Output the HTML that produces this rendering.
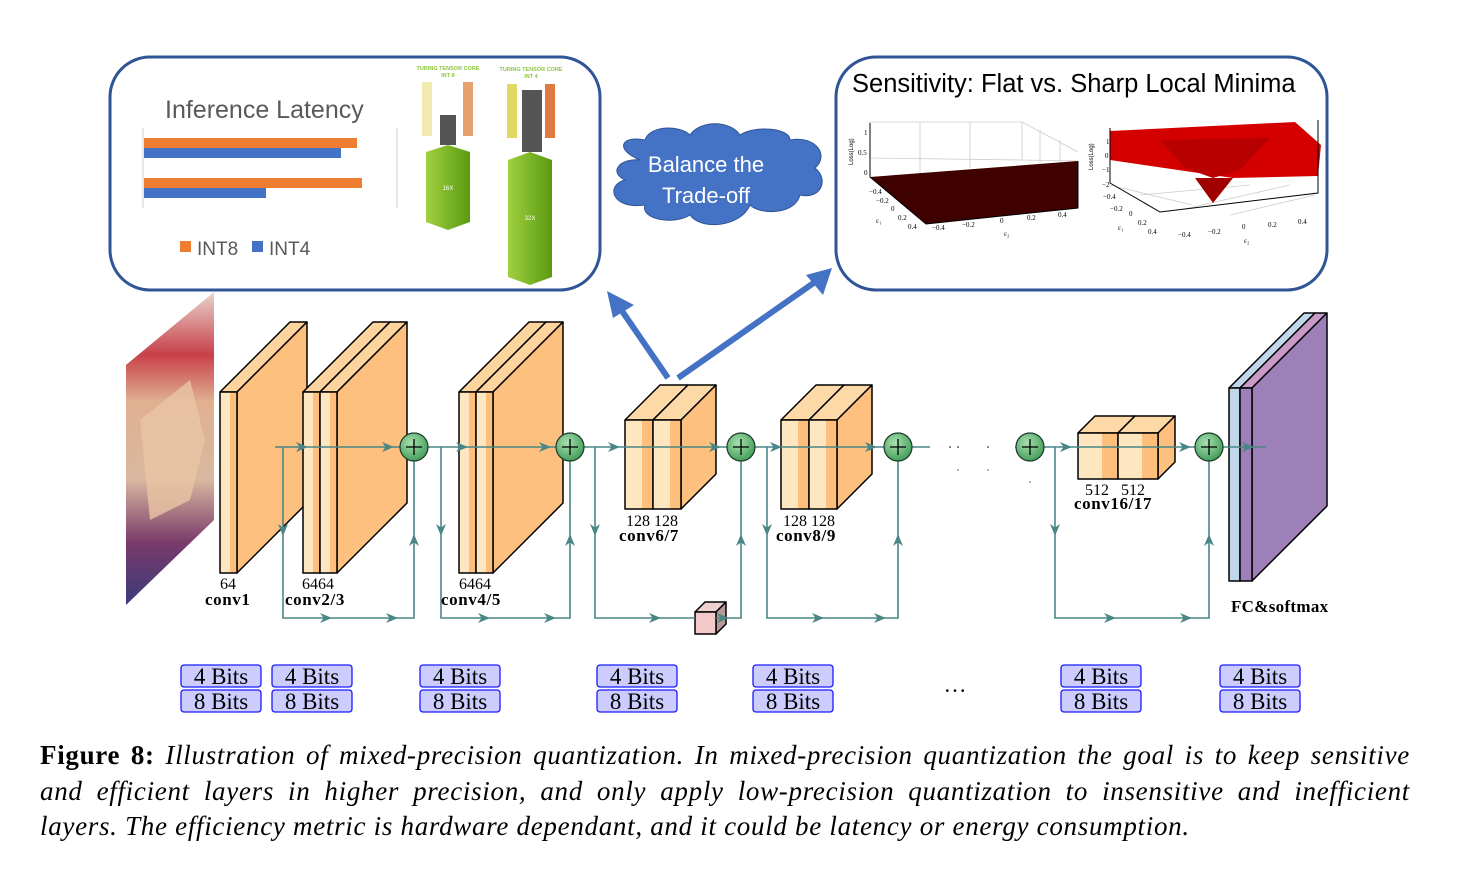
<!DOCTYPE html>
<html><head><meta charset="utf-8">
<style>
html,body{margin:0;padding:0;background:#fff;width:1470px;height:876px;overflow:hidden}
svg{position:absolute;left:0;top:0}
.cap{position:absolute;left:40px;width:1370px;font-family:"Liberation Serif",serif;font-size:27px;letter-spacing:0.7px;line-height:35.5px;color:#000;font-style:italic;white-space:nowrap}
.j{text-align:justify;text-align-last:justify}
.cap b{font-style:normal}
</style></head><body>
<svg width="1470" height="876" viewBox="0 0 1470 876" xmlns="http://www.w3.org/2000/svg">
<defs>
<path id="ar" d="M-6,-5 L6,0 L-6,5 L-2.5,0Z" fill="#4a8686"/>
<radialGradient id="gg" cx="0.4" cy="0.35" r="0.7"><stop offset="0" stop-color="#a8e0b0"/><stop offset="1" stop-color="#3f9a55"/></radialGradient>
<linearGradient id="cat" x1="0" y1="0" x2="0" y2="1"><stop offset="0" stop-color="#e8d5cc"/><stop offset="0.2" stop-color="#c8404a"/><stop offset="0.35" stop-color="#e0b090"/><stop offset="0.6" stop-color="#d8b8a0"/><stop offset="0.8" stop-color="#7a3a6a"/><stop offset="1" stop-color="#3a3a7a"/></linearGradient>
<linearGradient id="fr" x1="0" y1="0" x2="1" y2="0"><stop offset="0" stop-color="#fee7c0"/><stop offset="0.6" stop-color="#fee7c0"/><stop offset="0.6" stop-color="#fdbf7b"/><stop offset="1" stop-color="#fdbf7b"/></linearGradient>
<linearGradient id="tg" x1="0" y1="0" x2="1" y2="0"><stop offset="0" stop-color="#a0d040"/><stop offset="1" stop-color="#5a9a10"/></linearGradient>
</defs>

<rect x="110" y="57" width="490" height="233" rx="40" fill="#fff" stroke="#2f5597" stroke-width="3"/>
<text x="165" y="118" font-family="Liberation Sans,sans-serif" font-size="25" fill="#595959">Inference Latency</text>
<line x1="143" y1="128" x2="143" y2="208" stroke="#d0d0d0"/>
<line x1="397" y1="128" x2="397" y2="208" stroke="#d0d0d0"/>
<rect x="144" y="138" width="213" height="10" fill="#ed7d31"/>
<rect x="144" y="148" width="197" height="10" fill="#4472c4"/>
<rect x="144" y="178" width="218" height="10" fill="#ed7d31"/>
<rect x="144" y="188" width="122" height="10" fill="#4472c4"/>
<rect x="180" y="241" width="11" height="11" fill="#ed7d31"/>
<text x="197" y="255" font-family="Liberation Sans,sans-serif" font-size="19" fill="#595959">INT8</text>
<rect x="252" y="241" width="11" height="11" fill="#4472c4"/>
<text x="269" y="255" font-family="Liberation Sans,sans-serif" font-size="19" fill="#595959">INT4</text>
<text x="448" y="70" font-family="Liberation Sans,sans-serif" font-size="5.5" font-weight="bold" fill="#8cc43c" text-anchor="middle">TURING TENSOR CORE</text>
<text x="448" y="77" font-family="Liberation Sans,sans-serif" font-size="5.5" font-weight="bold" fill="#8cc43c" text-anchor="middle">INT 8</text>
<text x="531" y="71" font-family="Liberation Sans,sans-serif" font-size="5.5" font-weight="bold" fill="#8cc43c" text-anchor="middle">TURING TENSOR CORE</text>
<text x="531" y="78" font-family="Liberation Sans,sans-serif" font-size="5.5" font-weight="bold" fill="#8cc43c" text-anchor="middle">INT 4</text>
<rect x="422" y="82" width="10" height="54" fill="#f0eab0"/>
<rect x="463" y="82" width="10" height="54" fill="#e8a070"/>
<rect x="440" y="115" width="16" height="30" fill="#555"/>
<rect x="507" y="84" width="10" height="54" fill="#e0d860"/>
<rect x="545" y="84" width="10" height="54" fill="#e07a40"/>
<rect x="522" y="90" width="20" height="62" fill="#555"/>
<polygon points="426,152 448,145 470,152 470,222 448,230 426,222" fill="url(#tg)"/>
<polygon points="508,160 530,152 552,160 552,277 530,285 508,277" fill="url(#tg)"/>
<text x="448" y="190" font-family="Liberation Sans,sans-serif" font-size="6" fill="#fff" text-anchor="middle">16X</text>
<text x="530" y="220" font-family="Liberation Sans,sans-serif" font-size="6" fill="#fff" text-anchor="middle">32X</text>

<rect x="836" y="57" width="491" height="233" rx="40" fill="#fff" stroke="#2f5597" stroke-width="3"/>
<text x="852" y="92" font-family="Liberation Sans,sans-serif" font-size="25.5" fill="#000">Sensitivity: Flat vs. Sharp Local Minima</text>
<g stroke="#ccc" stroke-width="0.8" fill="none">
<line x1="870" y1="122" x2="870" y2="177"/><line x1="870" y1="122" x2="1022" y2="122"/>
<line x1="870" y1="158" x2="1022" y2="160"/><line x1="1022" y1="122" x2="1022" y2="160"/>
<line x1="1022" y1="122" x2="1078" y2="152"/><line x1="1022" y1="160" x2="1078" y2="161"/>
<line x1="920" y1="122" x2="920" y2="173"/><line x1="970" y1="122" x2="970" y2="168"/>
<line x1="1040" y1="130" x2="1040" y2="170"/><line x1="1060" y1="140" x2="1060" y2="170"/>
<line x1="1110" y1="185" x2="1192" y2="205"/><line x1="1140" y1="195" x2="1250" y2="185"/>
<line x1="1230" y1="215" x2="1315" y2="195"/><line x1="1180" y1="210" x2="1290" y2="185"/>
</g>
<polygon points="870,177 1078,161 1078,208 926,224" fill="#3f0000"/>
<polyline points="870,123 870,177 926,224 1078,208 1078,161" fill="none" stroke="#000" stroke-width="1"/>
<polygon points="1110,131 1295,122 1321,145 1318,176 1233,178 1110,160" fill="#d40000"/>
<polygon points="1160,140 1270,138 1240,170 1213,178 1185,168" fill="#b80000"/>
<polygon points="1195,178 1233,178 1213,203" fill="#a00000"/>
<polyline points="1110,128 1110,183 1160,212 1318,193 1318,120" fill="none" stroke="#000" stroke-width="1"/>
<g font-family="Liberation Serif,serif" font-size="7" fill="#000">
<text x="864" y="135">1</text><text x="858" y="155">0.5</text><text x="864" y="175">0</text>
<text x="869" y="194">−0.4</text><text x="876" y="203">−0.2</text><text x="891" y="211">0</text><text x="898" y="220">0.2</text><text x="908" y="229">0.4</text>
<text x="932" y="230">−0.4</text><text x="962" y="227">−0.2</text><text x="1000" y="223">0</text><text x="1027" y="220">0.2</text><text x="1058" y="217">0.4</text>
<text x="1004" y="236">ε₂</text><text x="876" y="223">ε₁</text>
<text x="1106" y="144">1</text><text x="1105" y="158">0</text><text x="1102" y="172">−1</text><text x="1102" y="187">−2</text>
<text x="1103" y="199">−0.4</text><text x="1110" y="211">−0.2</text><text x="1129" y="216">0</text><text x="1138" y="225">0.2</text><text x="1148" y="234">0.4</text>
<text x="1178" y="237">−0.4</text><text x="1208" y="234">−0.2</text><text x="1242" y="229">0</text><text x="1268" y="227">0.2</text><text x="1298" y="224">0.4</text>
<text x="1244" y="243">ε₂</text><text x="1118" y="230">ε₁</text>
<text transform="translate(853,165) rotate(-90)" font-family="Liberation Sans,sans-serif" font-size="6">Loss(Log)</text>
<text transform="translate(1093,170) rotate(-90)" font-family="Liberation Sans,sans-serif" font-size="6">Loss(Log)</text>
</g>

<g fill="#4472c4" stroke="#2f5597" stroke-width="1">
<path d="M640,160 C615,150 620,135 645,140 C650,125 680,125 690,135 C700,120 730,120 740,135 C755,125 790,128 790,140 C815,135 830,155 815,168 C830,180 820,200 800,195 C795,215 760,215 750,205 C740,228 700,230 690,215 C675,225 640,220 645,205 C612,210 605,185 625,180 C608,172 620,158 640,160Z"/>
</g>
<text x="706" y="172" font-family="Liberation Sans,sans-serif" font-size="22" fill="#fff" text-anchor="middle">Balance the</text>
<text x="706" y="203" font-family="Liberation Sans,sans-serif" font-size="22" fill="#fff" text-anchor="middle">Trade-off</text>

<g stroke="#4472c4" stroke-width="6" fill="#4472c4">
<line x1="668" y1="378" x2="620" y2="308"/>
<line x1="678" y1="378" x2="815" y2="282"/>
</g>
<polygon points="607,291 634,305 613,318" fill="#4472c4"/>
<polygon points="832,268 823,295 806,275" fill="#4472c4"/>

<polygon points="126,365 214,292 214,520 126,605" fill="url(#cat)"/>
<polygon points="140,420 190,380 205,440 190,500 150,520" fill="#e8c6a4" opacity="0.8"/>

<g stroke="#000" stroke-width="1.5" stroke-linejoin="round">
<polygon points="220,392 237,392 307,322 290,322" fill="#fdd49e"/>
<polygon points="237,392 307,322 307,503 237,573" fill="#fdc07e"/>
<rect x="220" y="392" width="17" height="181" fill="url(#fr)"/>
<polygon points="303,392 320,392 390,322 373,322" fill="#fdd49e"/>
<polygon points="320,392 390,322 390,503 320,573" fill="#fdc07e"/>
<rect x="303" y="392" width="17" height="181" fill="url(#fr)"/>
<polygon points="320,392 337,392 407,322 390,322" fill="#fdd49e"/>
<polygon points="337,392 407,322 407,503 337,573" fill="#fdc07e"/>
<rect x="320" y="392" width="17" height="181" fill="url(#fr)"/>
<polygon points="459,392 476,392 546,322 529,322" fill="#fdd49e"/>
<polygon points="476,392 546,322 546,503 476,573" fill="#fdc07e"/>
<rect x="459" y="392" width="17" height="181" fill="url(#fr)"/>
<polygon points="476,392 493,392 563,322 546,322" fill="#fdd49e"/>
<polygon points="493,392 563,322 563,503 493,573" fill="#fdc07e"/>
<rect x="476" y="392" width="17" height="181" fill="url(#fr)"/>
<polygon points="625,420 653,420 688,385 660,385" fill="#fdd9a8"/>
<polygon points="653,420 688,385 688,474 653,509" fill="#fdc07e"/>
<rect x="625" y="420" width="28" height="89" fill="url(#fr)"/>
<polygon points="653,420 681,420 716,385 688,385" fill="#fdd9a8"/>
<polygon points="681,420 716,385 716,474 681,509" fill="#fdc07e"/>
<rect x="653" y="420" width="28" height="89" fill="url(#fr)"/>
<polygon points="781,420 809,420 844,385 816,385" fill="#fdd9a8"/>
<polygon points="809,420 844,385 844,474 809,509" fill="#fdc07e"/>
<rect x="781" y="420" width="28" height="89" fill="url(#fr)"/>
<polygon points="809,420 837,420 872,385 844,385" fill="#fdd9a8"/>
<polygon points="837,420 872,385 872,474 837,509" fill="#fdc07e"/>
<rect x="809" y="420" width="28" height="89" fill="url(#fr)"/>
<polygon points="1078,433 1118,433 1135,416 1095,416" fill="#fdd9a8"/>
<polygon points="1118,433 1135,416 1135,462 1118,479" fill="#fdc07e"/>
<rect x="1078" y="433" width="40" height="46" fill="url(#fr)"/>
<polygon points="1118,433 1158,433 1175,416 1135,416" fill="#fdd9a8"/>
<polygon points="1158,433 1175,416 1175,462 1158,479" fill="#fdc07e"/>
<rect x="1118" y="433" width="40" height="46" fill="url(#fr)"/>
<polygon points="1229,388 1240,388 1315,313 1304,313" fill="#c0d6ea"/>
<polygon points="1240,388 1315,313 1315,506 1240,581" fill="#b7a8d0"/>
<rect x="1229" y="388" width="11" height="193" fill="#c0d6ea"/>
<polygon points="1240,388 1252,388 1327,313 1315,313" fill="#c99ac8"/>
<polygon points="1252,388 1327,313 1327,506 1252,581" fill="#9d80b8"/>
<rect x="1240" y="388" width="12" height="193" fill="#9d80b8"/>
<polygon points="695,612 716,612 726,602 705,602" fill="#f0d0d0"/>
<polygon points="716,612 726,602 726,624 716,634" fill="#b89898"/>
<rect x="695" y="612" width="21" height="22" fill="#f2c8c8"/>
</g>

<g stroke="#4a8686" stroke-width="1.6" fill="none">
<line x1="275" y1="447" x2="930" y2="447"/>
<line x1="1015" y1="447" x2="1266" y2="447"/>
<polyline points="283,447 283,618 414,618 414,461"/>
<polyline points="441,447 441,618 570,618 570,461"/>
<polyline points="595,447 595,618 695,618"/>
<polyline points="716,618 741,618 741,461"/>
<polyline points="767,447 767,618 898,618 898,461"/>
<polyline points="1055,447 1055,618 1209,618 1209,461"/>
</g>
<g fill="#000"><circle cx="950" cy="447" r="0.8"/><circle cx="958" cy="447" r="0.8"/><circle cx="988" cy="447" r="0.8"/><circle cx="958" cy="470" r="0.6"/><circle cx="988" cy="470" r="0.6"/><circle cx="1030" cy="482" r="0.6"/></g>
<use href="#ar" x="302" y="447"/><use href="#ar" x="388" y="447"/><use href="#ar" x="462" y="447"/><use href="#ar" x="545" y="447"/>
<use href="#ar" x="614" y="447"/><use href="#ar" x="715" y="447"/><use href="#ar" x="776" y="447"/><use href="#ar" x="871" y="447"/>
<use href="#ar" x="1066" y="447"/><use href="#ar" x="1185" y="447"/><use href="#ar" x="1248" y="447"/>
<use href="#ar" x="326" y="618"/><use href="#ar" x="392" y="618"/><use href="#ar" x="484" y="618"/><use href="#ar" x="550" y="618"/>
<use href="#ar" x="655" y="618"/><use href="#ar" x="723" y="618"/><use href="#ar" x="818" y="618"/><use href="#ar" x="880" y="618"/>
<use href="#ar" x="1110" y="618"/><use href="#ar" x="1186" y="618"/>
<g transform="translate(283,530) rotate(90)"><use href="#ar"/></g>
<g transform="translate(441,530) rotate(90)"><use href="#ar"/></g>
<g transform="translate(595,530) rotate(90)"><use href="#ar"/></g>
<g transform="translate(767,530) rotate(90)"><use href="#ar"/></g>
<g transform="translate(1055,530) rotate(90)"><use href="#ar"/></g>
<g transform="translate(414,540) rotate(-90)"><use href="#ar"/></g>
<g transform="translate(570,540) rotate(-90)"><use href="#ar"/></g>
<g transform="translate(741,540) rotate(-90)"><use href="#ar"/></g>
<g transform="translate(898,540) rotate(-90)"><use href="#ar"/></g>
<g transform="translate(1209,540) rotate(-90)"><use href="#ar"/></g>

<g stroke="#1a3a2a" stroke-width="1.2">
<circle cx="414" cy="447" r="14" fill="url(#gg)"/><circle cx="570" cy="447" r="14" fill="url(#gg)"/>
<circle cx="741" cy="447" r="14" fill="url(#gg)"/><circle cx="898" cy="447" r="14" fill="url(#gg)"/>
<circle cx="1030" cy="447" r="14" fill="url(#gg)"/><circle cx="1209" cy="447" r="14" fill="url(#gg)"/>
</g>
<g stroke="#000" stroke-width="1.3">
<path d="M406,447h16M414,439v16"/><path d="M562,447h16M570,439v16"/><path d="M733,447h16M741,439v16"/>
<path d="M890,447h16M898,439v16"/><path d="M1022,447h16M1030,439v16"/><path d="M1201,447h16M1209,439v16"/>
</g>

<g font-family="Liberation Serif,serif" font-size="16" fill="#000">
<text x="220" y="589">64</text><text x="302" y="589">6464</text><text x="459" y="589">6464</text>
<text x="626" y="526">128 128</text><text x="783" y="526">128 128</text><text x="1085" y="495">512&#160;&#160;&#160;512</text>
</g>
<g font-family="Liberation Serif,serif" font-size="17" font-weight="bold" fill="#000" letter-spacing="0.6">
<text x="205" y="605">conv1</text><text x="285" y="605">conv2/3</text><text x="441" y="605">conv4/5</text>
<text x="619" y="541">conv6/7</text><text x="776" y="541">conv8/9</text><text x="1074" y="509">conv16/17</text>
<text x="1231" y="612" letter-spacing="0.3">FC&amp;softmax</text>
</g>

<g fill="#ccccff" stroke="#1a1aff" stroke-width="1.3">
<rect x="181" y="665" width="80" height="22" rx="3"/><rect x="181" y="690" width="80" height="22" rx="3"/>
<rect x="272" y="665" width="80" height="22" rx="3"/><rect x="272" y="690" width="80" height="22" rx="3"/>
<rect x="420" y="665" width="80" height="22" rx="3"/><rect x="420" y="690" width="80" height="22" rx="3"/>
<rect x="597" y="665" width="80" height="22" rx="3"/><rect x="597" y="690" width="80" height="22" rx="3"/>
<rect x="753" y="665" width="80" height="22" rx="3"/><rect x="753" y="690" width="80" height="22" rx="3"/>
<rect x="1061" y="665" width="80" height="22" rx="3"/><rect x="1061" y="690" width="80" height="22" rx="3"/>
<rect x="1220" y="665" width="80" height="22" rx="3"/><rect x="1220" y="690" width="80" height="22" rx="3"/>
</g>
<g font-family="Liberation Serif,serif" font-size="23" fill="#000" text-anchor="middle">
<text x="221" y="684">4 Bits</text><text x="221" y="709">8 Bits</text>
<text x="312" y="684">4 Bits</text><text x="312" y="709">8 Bits</text>
<text x="460" y="684">4 Bits</text><text x="460" y="709">8 Bits</text>
<text x="637" y="684">4 Bits</text><text x="637" y="709">8 Bits</text>
<text x="793" y="684">4 Bits</text><text x="793" y="709">8 Bits</text>
<text x="1101" y="684">4 Bits</text><text x="1101" y="709">8 Bits</text>
<text x="1260" y="684">4 Bits</text><text x="1260" y="709">8 Bits</text>
<text x="955" y="692">…</text>
</g>
</svg>
<div class="cap j" style="top:738px"><b>Figure 8:</b> Illustration of mixed-precision quantization. In mixed-precision quantization the goal is to keep sensitive</div>
<div class="cap j" style="top:774px">and efficient layers in higher precision, and only apply low-precision quantization to insensitive and inefficient</div>
<div class="cap" style="top:809px">layers. The efficiency metric is hardware dependant, and it could be latency or energy consumption.</div>
</body></html>
